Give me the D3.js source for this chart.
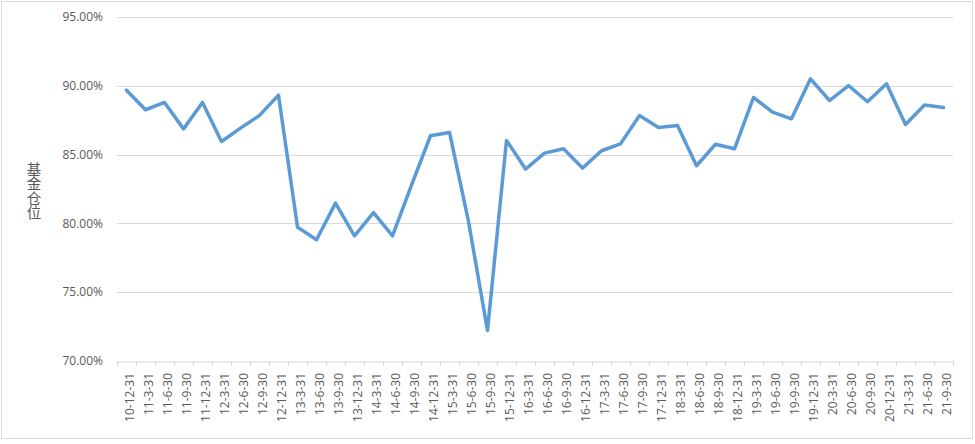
<!DOCTYPE html>
<html>
<head>
<meta charset="utf-8">
<script src="https://cdn.jsdelivr.net/npm/d3@7"></script>
<style>
  html, body { margin: 0; padding: 0; background: #fff; }
  svg { display: block; }
</style>
</head>
<body>
<svg id="chart" width="975" height="444"></svg>
<script>
const categories = ["10-12-31","11-3-31","11-6-30","11-9-30","11-12-31","12-3-31","12-6-30","12-9-30","12-12-31","13-3-31","13-6-30","13-9-30","13-12-31","14-3-31","14-6-30","14-9-30","14-12-31","15-3-31","15-6-30","15-9-30","15-12-31","16-3-31","16-6-30","16-9-30","16-12-31","17-3-31","17-6-30","17-9-30","17-12-31","18-3-31","18-6-30","18-9-30","18-12-31","19-3-31","19-6-30","19-9-30","19-12-31","20-3-31","20-6-30","20-9-30","20-12-31","21-3-31","21-6-30","21-9-30"];
const positions = [89.68,88.26,88.79,86.87,88.79,85.95,86.92,87.85,89.32,79.73,78.81,81.47,79.10,80.79,79.10,82.78,86.37,86.61,80.14,72.22,86.03,83.95,85.11,85.42,84.02,85.28,85.78,87.84,86.97,87.11,84.19,85.75,85.42,89.15,88.09,87.60,90.51,88.93,90.02,88.84,90.15,87.19,88.60,88.42];
const yTicks = [70,75,80,85,90,95];
const yTitle = "基金仓位";

const svg = d3.select("#chart");
const font = "'Open Sans', 'Noto Sans', sans-serif";
const gridColor = "#d9d9d9";
const textColor = "#595959";

// outer border
svg.append("rect")
  .attr("x", 1.5).attr("y", 1.5)
  .attr("width", 971).attr("height", 437)
  .attr("fill", "#fff").attr("stroke", gridColor).attr("stroke-width", 1);

const x = d3.scaleBand().domain(categories).range([117, 953]);
const y = d3.scaleLinear().domain([70, 95]).range([361, 17]);

// gridlines
svg.append("g").selectAll("line")
  .data(yTicks.filter(t => t !== 70))
  .join("line")
  .attr("x1", 117).attr("x2", 953)
  .attr("y1", d => Math.round(y(d)) + 0.5).attr("y2", d => Math.round(y(d)) + 0.5)
  .attr("stroke", gridColor).attr("stroke-width", 1);

// y tick labels
svg.append("g").selectAll("text")
  .data(yTicks)
  .join("text")
  .attr("x", 103).attr("y", d => y(d))
  .attr("dy", "0.35em")
  .attr("text-anchor", "end")
  .attr("font-family", font).attr("font-size", "12px")
  .attr("fill", textColor)
  .text(d => d.toFixed(2) + "%");

// x axis
const xAxis = d3.axisBottom(x).tickSize(0).tickFormat("");
const gx = svg.append("g").attr("transform", `translate(0,${Math.round(y(70)) + 0.5})`).call(xAxis);
gx.select(".domain").attr("stroke", gridColor);
// tick marks at band boundaries
const bounds = categories.map(c => x(c)).concat([x.range()[1]]);
svg.append("g").selectAll("line")
  .data(bounds)
  .join("line")
  .attr("x1", d => Math.round(d) + 0.5).attr("x2", d => Math.round(d) + 0.5)
  .attr("y1", Math.round(y(70))).attr("y2", Math.round(y(70)) + 5)
  .attr("stroke", gridColor);

// x labels
svg.append("g").selectAll("text")
  .data(categories)
  .join("text")
  .attr("transform", d => `translate(${x(d) + x.bandwidth() / 2 + 3},373) rotate(-90)`)
  .attr("text-anchor", "end")
  .attr("dy", "0.35em")
  .attr("font-family", font).attr("font-size", "12px")
  .attr("fill", textColor)
  .text(d => d);

// y axis title (vertical, upright characters)
svg.append("text")
  .attr("x", 34).attr("y", 191)
  .attr("font-family", "'Noto Sans CJK SC', sans-serif")
  .attr("font-size", "14.5px")
  .attr("fill", textColor)
  .attr("text-anchor", "middle")
  .style("writing-mode", "vertical-rl")
  .style("text-orientation", "upright")
  .text(yTitle);

// line
const line = d3.line()
  .x((d, i) => x(categories[i]) + x.bandwidth() / 2)
  .y(d => y(d));
svg.append("path")
  .datum(positions)
  .attr("d", line)
  .attr("fill", "none")
  .attr("stroke", "#5b9bd5")
  .attr("stroke-width", 3.5)
  .attr("stroke-linejoin", "round")
  .attr("stroke-linecap", "round");
</script>
</body>
</html>
